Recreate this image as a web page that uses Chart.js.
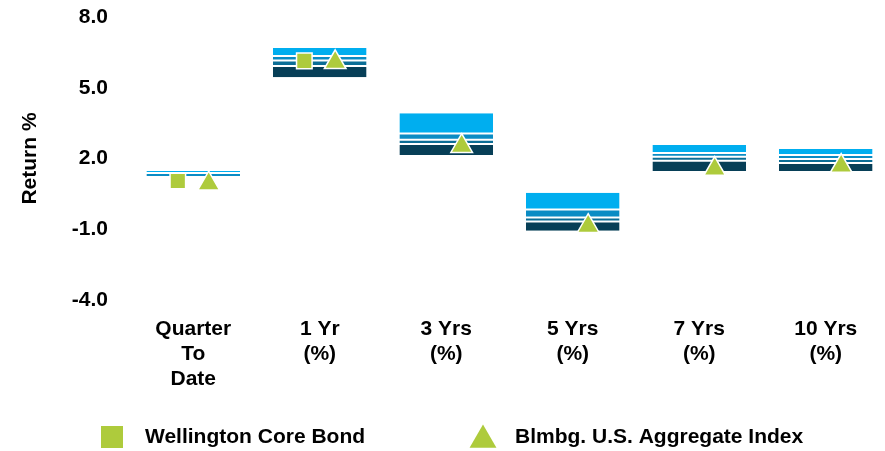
<!DOCTYPE html>
<html>
<head>
<meta charset="utf-8">
<script src="https://cdn.jsdelivr.net/npm/chart.js@4/dist/chart.umd.min.js"></script>
<style>
  html, body { margin: 0; padding: 0; background: #fff; overflow: hidden; width: 885px; height: 451px; }
  #wrap { width: 903px; height: 451px; }
</style>
</head>
<body>
<div id="wrap"><canvas id="c" width="903" height="451"></canvas></div>
<script>
// Periods shown along the x axis
const categories = [["Quarter", "To", "Date"], ["1 Yr", "(%)"], ["3 Yrs", "(%)"], ["5 Yrs", "(%)"], ["7 Yrs", "(%)"], ["10 Yrs", "(%)"]];

// Peer universe percentile breakpoints (return %)
const p95 = [1.47, 6.69, 3.92, 0.55, 2.57, 2.40];
const p75 = [1.39, 6.35, 3.06, -0.16, 2.23, 2.15];
const p50 = [1.22, 6.16, 2.79, -0.50, 2.07, 1.98];
const p25 = [1.21, 5.92, 2.62, -0.67, 1.90, 1.81];
const p5  = [1.20, 5.45, 2.15, -1.06, 1.47, 1.47];

// Fund and benchmark returns (%)
const wellington = [1.05, 6.14, null, null, null, null];
const aggregate  = [0.93, 6.08, 2.52, -0.87, 1.55, 1.68];

// Y axis ticks
const yTicks = [-4, -1, 2, 5, 8];

const seriesNames = ["Wellington Core Bond", "Blmbg. U.S. Aggregate Index"];

const FONT = "'Liberation Sans', Arial, Helvetica, sans-serif";
const FS = 21;
const MARK = '#AECB3C';
const MARKER_SHIFT = 0.122; // horizontal shift of the two markers within a period

Chart.defaults.font.family = FONT;
Chart.defaults.color = '#000';

function band(lo, hi) { return categories.map((_, i) => [lo[i], hi[i]]); }
function pts(vals, dx) {
  return vals.map((v, i) => v == null ? null : { x: i + dx, y: v }).filter(p => p);
}
function noSidePadding(s) { s.paddingLeft = 0; s.paddingRight = 0; s.paddingTop = 0; s.paddingBottom = 0; }

const bandCommon = {
  type: 'bar', grouped: false, order: 2, xAxisID: 'x', yAxisID: 'y',
  barPercentage: 0.74, categoryPercentage: 1,
  borderColor: '#ffffff', borderSkipped: false
};

const legendPlugin = {
  id: 'markerLegend',
  afterDraw(chart) {
    const ctx = chart.ctx;
    const y = 437;
    ctx.save();
    ctx.fillStyle = MARK;
    // square
    ctx.fillRect(101, y - 11, 22, 22);
    // triangle
    const r = 15.5, cx = 483, cy = y + 3;
    ctx.beginPath();
    ctx.moveTo(cx, cy - r);
    ctx.lineTo(cx + r * Math.sin(Math.PI * 2 / 3), cy - r * Math.cos(Math.PI * 2 / 3));
    ctx.lineTo(cx + r * Math.sin(Math.PI * 4 / 3), cy - r * Math.cos(Math.PI * 4 / 3));
    ctx.closePath();
    ctx.fill();
    ctx.fillStyle = '#000';
    ctx.font = 'bold ' + FS + 'px ' + FONT;
    ctx.textBaseline = 'middle';
    ctx.fillText(seriesNames[0], 145, y);
    ctx.fillText(seriesNames[1], 515, y);
    ctx.restore();
  }
};

new Chart(document.getElementById('c'), {
  data: {
    labels: categories,
    datasets: [
      Object.assign({ label: '75-95', data: band(p75, p95), backgroundColor: '#00AEEF', borderWidth: { top: 0, bottom: 1, left: 0, right: 0 } }, bandCommon),
      Object.assign({ label: '50-75', data: band(p50, p75), backgroundColor: '#0A8CC4', borderWidth: { top: 1, bottom: 1, left: 0, right: 0 } }, bandCommon),
      Object.assign({ label: '25-50', data: band(p25, p50), backgroundColor: '#0B6E96', borderWidth: { top: 1, bottom: 1, left: 0, right: 0 } }, bandCommon),
      Object.assign({ label: '5-25',  data: band(p5, p25),  backgroundColor: '#073F57', borderWidth: { top: 1, bottom: 0, left: 0, right: 0 } }, bandCommon),
      {
        type: 'scatter', label: seriesNames[0], order: 0, xAxisID: 'xp', yAxisID: 'y',
        data: pts(wellington, -MARKER_SHIFT),
        pointStyle: 'rect', pointRadius: 11, pointHoverRadius: 11,
        backgroundColor: MARK, borderColor: '#ffffff', borderWidth: 1.5
      },
      {
        type: 'scatter', label: seriesNames[1], order: 0, xAxisID: 'xp', yAxisID: 'y',
        data: pts(aggregate, MARKER_SHIFT),
        pointStyle: 'triangle', pointRadius: 12.5, pointHoverRadius: 12.5,
        backgroundColor: MARK, borderColor: '#ffffff', borderWidth: 1.5
      }
    ]
  },
  options: {
    responsive: false,
    animation: false,
    events: [],
    layout: { padding: { top: 17, left: 0, right: 0, bottom: 56 } },
    plugins: { legend: { display: false }, tooltip: { enabled: false } },
    scales: {
      x: {
        type: 'category', offset: true,
        grid: { display: false, drawTicks: false }, border: { display: false },
        ticks: { font: { size: FS, weight: 'bold', lineHeight: 25 / FS }, padding: 17, maxRotation: 0, autoSkip: false, color: '#000' },
        afterFit(s) { s.height = 95; noSidePadding(s); }
      },
      xp: {
        type: 'linear', display: false, min: -0.5, max: categories.length - 0.5,
        ticks: { display: false },
        afterFit(s) { s.height = 0; noSidePadding(s); }
      },
      y: {
        min: yTicks[0], max: yTicks[yTicks.length - 1],
        grid: { display: false, drawTicks: false }, border: { display: false },
        afterBuildTicks(s) { s.ticks = yTicks.map(v => ({ value: v })); },
        ticks: { font: { size: FS, weight: 'bold' }, padding: 22, color: '#000', callback: v => Number(v).toFixed(1) },
        title: { display: true, text: 'Return %', font: { size: FS, weight: 'bold' }, color: '#000', padding: { top: 18, bottom: 0 } },
        afterFit(s) { s.width = 130; noSidePadding(s); }
      }
    }
  },
  plugins: [legendPlugin]
});
</script>
</body>
</html>
